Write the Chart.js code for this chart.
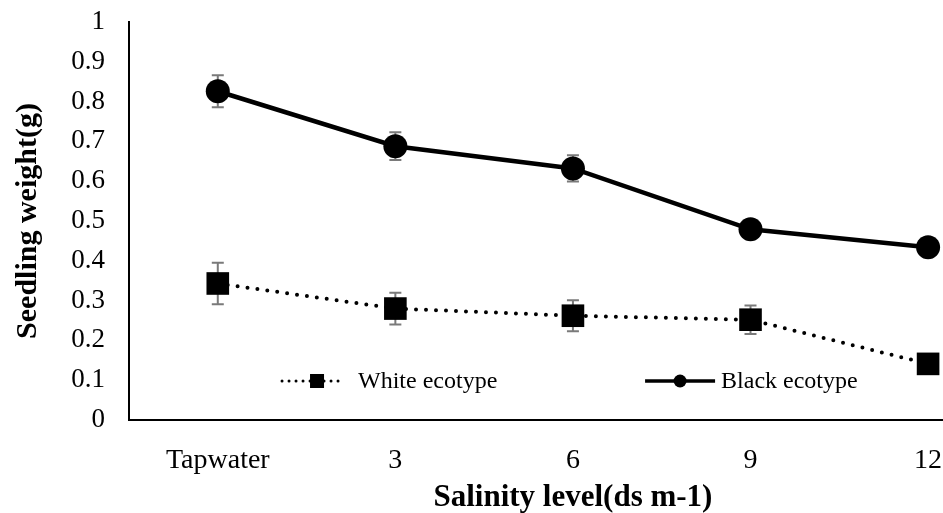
<!DOCTYPE html>
<html>
<head>
<meta charset="utf-8">
<script src="https://cdn.jsdelivr.net/npm/chart.js@4"></script>
<style>
  html, body { margin: 0; padding: 0; background: #fff; }
  #wrap { width: 943px; height: 513px; }
</style>
</head>
<body>
<div id="wrap"><canvas id="c" width="943" height="513"></canvas></div>
<script>
const categories = ["Tapwater", "3", "6", "9", "12"];
const whiteValues = [0.343, 0.280, 0.262, 0.252, 0.141];
const whiteErrors = [0.052, 0.040, 0.039, 0.036, 0.000];
const blackValues = [0.826, 0.688, 0.632, 0.479, 0.434];
const blackErrors = [0.040, 0.035, 0.033, 0.000, 0.000];
const yTickLabels = ["0", "0.1", "0.2", "0.3", "0.4", "0.5", "0.6", "0.7", "0.8", "0.9", "1"];
const seriesNames = ["White ecotype", "Black ecotype"];
const xTitle = "Salinity level(ds m-1)";
const yTitle = "Seedling weight(g)";

const SERIF = "'Liberation Serif', 'Times New Roman', serif";

function noScalePadding(scale) {
  scale.paddingTop = 0;
  scale.paddingBottom = 0;
  scale.paddingLeft = 0;
  scale.paddingRight = 0;
}

const errorBars = {
  id: 'errorBars',
  beforeDatasetsDraw(chart) {
    const ctx = chart.ctx;
    const xs = chart.scales.x, ys = chart.scales.y;
    const sets = [[whiteValues, whiteErrors], [blackValues, blackErrors]];
    ctx.save();
    ctx.strokeStyle = '#7a7a7a';
    ctx.lineWidth = 2;
    sets.forEach(([vals, errs]) => {
      vals.forEach((v, i) => {
        if (!errs[i]) return;
        const x = xs.getPixelForValue(i);
        const yt = ys.getPixelForValue(v + errs[i]);
        const yb = ys.getPixelForValue(v - errs[i]);
        ctx.beginPath();
        ctx.moveTo(x, yt); ctx.lineTo(x, yb);
        ctx.moveTo(x - 6, yt); ctx.lineTo(x + 6, yt);
        ctx.moveTo(x - 6, yb); ctx.lineTo(x + 6, yb);
        ctx.stroke();
      });
    });
    ctx.restore();
  }
};

const customText = {
  id: 'customText',
  afterDraw(chart) {
    const ctx = chart.ctx;
    const a = chart.chartArea;
    const xs = chart.scales.x;
    ctx.save();
    // x-axis title centered on the category range
    const cx = (xs.getPixelForValue(0) + xs.getPixelForValue(categories.length - 1)) / 2;
    ctx.font = "bold 31px " + SERIF;
    ctx.fillStyle = '#000';
    ctx.textAlign = 'center';
    ctx.textBaseline = 'alphabetic';
    ctx.fillText(xTitle, cx, 506);

    // legend inside plot area
    const ly = a.top + (a.bottom - a.top) * 0.902;
    ctx.font = "24px " + SERIF;
    ctx.textAlign = 'left';
    ctx.textBaseline = 'middle';
    // white item
    const w0 = a.left + (a.right - a.left) * 0.188;
    ctx.strokeStyle = '#000';
    ctx.lineWidth = 3;
    ctx.lineCap = 'round';
    ctx.setLineDash([0, 7]);
    ctx.beginPath(); ctx.moveTo(w0, ly); ctx.lineTo(w0 + 63, ly); ctx.stroke();
    ctx.setLineDash([]);
    ctx.fillStyle = '#000';
    ctx.fillRect(w0 + 28, ly - 7, 14, 14);
    ctx.fillText(seriesNames[0], w0 + 76, ly + 1);
    // black item
    const b0 = a.left + (a.right - a.left) * 0.634;
    ctx.lineCap = 'butt';
    ctx.lineWidth = 3.5;
    ctx.beginPath(); ctx.moveTo(b0, ly); ctx.lineTo(b0 + 70, ly); ctx.stroke();
    ctx.beginPath(); ctx.arc(b0 + 35, ly, 6.5, 0, Math.PI * 2); ctx.fill();
    ctx.fillText(seriesNames[1], b0 + 76, ly + 1);
    ctx.restore();
  }
};

new Chart(document.getElementById('c'), {
  type: 'line',
  data: {
    datasets: [
      {
        label: seriesNames[0],
        data: whiteValues.map((v, i) => ({ x: i, y: v })),
        borderColor: '#000',
        backgroundColor: '#000',
        borderWidth: 4,
        borderDash: [0, 10],
        borderCapStyle: 'round',
        pointStyle: 'rect',
        pointRadius: 16,
        pointBorderWidth: 0,
        pointBackgroundColor: '#000',
        tension: 0,
        clip: false
      },
      {
        label: seriesNames[1],
        data: blackValues.map((v, i) => ({ x: i, y: v })),
        borderColor: '#000',
        backgroundColor: '#000',
        borderWidth: 4.5,
        pointStyle: 'circle',
        pointRadius: 12,
        pointBorderWidth: 0,
        pointBackgroundColor: '#000',
        tension: 0,
        clip: false
      }
    ]
  },
  options: {
    responsive: false,
    animation: false,
    layout: { autoPadding: false, padding: { top: 22, left: 0, right: 0, bottom: 0 } },
    plugins: { legend: { display: false }, tooltip: { enabled: false } },
    scales: {
      x: {
        type: 'linear',
        min: -0.5,
        max: 4.084,
        grid: { display: false, drawTicks: false },
        border: { display: true, color: '#000', width: 2 },
        afterBuildTicks(scale) {
          scale.ticks = categories.map((_, i) => ({ value: i }));
        },
        afterFit(scale) { scale.height = 93; noScalePadding(scale); },
        ticks: {
          autoSkip: false,
          maxRotation: 0,
          padding: 24,
          color: '#000',
          font: { family: SERIF, size: 28 },
          callback: (v) => categories[v]
        },
        title: { display: false }
      },
      y: {
        min: 0,
        max: 1,
        grid: { display: false, drawTicks: false },
        border: { display: true, color: '#000', width: 2 },
        afterBuildTicks(scale) {
          scale.ticks = yTickLabels.map((_, i) => ({ value: i / 10 }));
        },
        afterFit(scale) { scale.width = 129; noScalePadding(scale); },
        ticks: {
          padding: 24,
          color: '#000',
          font: { family: SERIF, size: 27 },
          callback: (v, i) => yTickLabels[i]
        },
        title: {
          display: true,
          text: yTitle,
          color: '#000',
          font: { family: SERIF, size: 30, weight: 'bold' },
          padding: { top: 10, bottom: 0 }
        }
      }
    }
  },
  plugins: [errorBars, customText]
});
</script>
</body>
</html>
